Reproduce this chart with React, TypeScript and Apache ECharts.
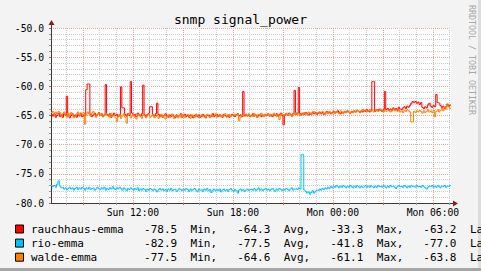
import React, { useEffect, useRef } from 'react';
import * as echarts from 'echarts';

// time in minutes since Sun 00:00, 5-minute steps
const START_MIN = 425; // Sun 07:05
const STEP_MIN = 5;
const END_MIN = 1865; // Mon 07:05

const seriesNames = ['rauchhaus-emma', 'rio-emma', 'walde-emma'];
const seriesColors = ['#ff0000', '#00c0ff', '#ff8000'];

const rauchhaus = [
  -64.8, -65.1, -64.7, -65.3, -65.0, -64.6, -65.2, -64.9, -65.3, -64.7, -65.0, -61.7,
  -64.9, -65.4, -65.0, -64.7, -65.2, -64.9, -65.3, -64.8, -65.1, -64.6, -65.2, -64.9,
  -65.1, -60.6, -59.6, -59.6, -64.8, -65.2, -64.9, -64.6, -65.1, -64.8, -64.5, -65.0,
  -64.7, -65.2, -64.9, -59.7, -64.8, -65.1, -64.7, -65.3, -64.9, -64.6, -65.0, -64.8,
  -65.2, -64.9, -60.1, -63.7, -63.7, -64.8, -65.1, -64.7, -65.0, -59.2, -64.6, -65.0,
  -64.8, -65.2, -64.6, -64.9, -65.1, -64.7, -59.8, -64.9, -65.2, -64.8, -64.6, -63.5,
  -63.5, -64.9, -65.1, -64.7, -62.9, -64.8, -65.2, -64.9, -65.3, -65.0, -64.7, -65.1,
  -65.3, -64.9, -65.2, -64.8, -65.1, -65.4, -64.9, -65.2, -65.0, -64.7, -65.3, -65.0,
  -64.8, -65.2, -65.0, -65.3, -64.9, -65.1, -65.4, -65.0, -64.8, -65.2, -64.9, -65.3,
  -65.1, -64.8, -65.2, -65.4, -65.0, -64.9, -65.3, -65.1, -64.7, -65.2, -65.0, -64.8,
  -65.2, -64.9, -65.1, -65.3, -64.8, -65.0, -65.2, -64.9, -65.3, -65.1, -64.8, -65.0,
  -65.2, -64.9, -64.7, -65.1, -64.9, -65.2, -60.9, -65.0, -64.8, -65.1, -64.9, -65.2,
  -65.0, -64.7, -65.1, -64.9, -65.3, -65.0, -64.8, -65.2, -64.9, -65.1, -64.8, -65.0,
  -64.7, -65.1, -64.9, -65.2, -64.8, -65.0, -64.7, -65.1, -64.9, -64.6, -65.0, -66.6,
  -64.9, -64.7, -65.0, -64.6, -64.8, -65.1, -64.7, -60.7, -64.8, -64.6, -60.2, -64.7,
  -64.9, -64.6, -64.8, -64.5, -64.7, -64.9, -64.6, -64.8, -64.4, -64.7, -64.5, -64.8,
  -64.6, -64.4, -64.7, -64.5, -64.8, -64.6, -64.3, -64.6, -64.4, -64.7, -64.5, -64.3,
  -64.6, -64.4, -64.2, -64.5, -64.7, -64.4, -64.6, -64.3, -64.5, -64.2, -64.4, -64.6,
  -64.3, -64.5, -64.2, -64.4, -64.1, -64.3, -64.5, -64.2, -64.4, -64.1, -64.3, -64.0,
  -64.2, -64.4, -64.1, -59.2, -59.2, -64.3, -64.0, -64.2, -63.9, -64.1, -64.3, -64.0,
  -60.9, -64.0, -63.8, -64.1, -63.9, -64.2, -63.7, -64.0, -63.8, -64.1, -63.6, -63.9,
  -64.0, -63.7, -63.5, -63.8, -63.4, -63.6, -63.3, -62.9, -62.6, -62.8, -62.6, -62.9,
  -62.7, -63.1, -62.8, -63.6, -63.8, -63.5, -63.7, -63.2, -62.9, -63.4, -63.6, -63.3,
  -63.5, -61.4, -62.8, -62.9, -63.3, -63.6, -63.4, -63.8, -63.5, -63.1, -63.4, -63.2,
];

const rio = [
  -77.0, -77.2, -77.0, -77.3, -76.8, -76.2, -77.1, -77.4, -77.3, -77.6, -77.4, -77.7,
  -77.5, -77.3, -77.6, -77.4, -77.8, -77.5, -77.3, -77.7, -77.4, -77.6, -77.3, -77.5,
  -77.8, -77.4, -77.6, -77.3, -77.7, -77.5, -77.4, -77.8, -77.6, -77.3, -77.5, -77.7,
  -77.4, -77.6, -77.3, -77.8, -77.5, -77.7, -77.4, -77.6, -77.2, -77.5, -77.7, -77.4,
  -77.6, -77.3, -77.5, -77.8, -77.4, -77.6, -77.9, -77.5, -77.7, -77.4, -77.6, -77.8,
  -77.5, -77.7, -77.4, -77.9, -77.6, -77.8, -77.5, -77.7, -78.0, -77.6, -77.8, -77.5,
  -77.7, -77.9, -77.6, -77.8, -78.1, -77.7, -77.5, -77.8, -77.6, -77.9, -77.7, -78.0,
  -77.6, -77.8, -77.5, -77.9, -77.7, -77.6, -78.0, -77.8, -77.5, -77.7, -77.9, -77.6,
  -77.8, -77.5, -77.7, -78.0, -77.6, -77.9, -77.7, -77.5, -77.8, -78.1, -77.6, -77.8,
  -77.7, -78.0, -77.6, -77.8, -77.5, -77.9, -77.7, -78.2, -77.8, -77.6, -77.9, -77.7,
  -77.9, -77.6, -78.1, -77.8, -77.6, -77.9, -77.7, -78.0, -77.7, -77.5, -77.8, -78.0,
  -77.7, -77.9, -78.3, -77.8, -77.6, -77.9, -77.7, -78.0, -77.8, -77.6, -77.9, -77.7,
  -77.6, -77.8, -77.5, -77.9, -77.7, -77.4, -77.8, -77.6, -77.9, -77.7, -77.5, -77.8,
  -77.6, -77.9, -77.7, -77.5, -77.8, -78.0, -77.6, -77.8, -77.5, -77.7, -77.9, -77.6,
  -77.8, -77.5, -77.7, -77.9, -77.6, -77.4, -77.8, -77.6, -77.5, -77.7, -77.4, -77.6,
  -71.7, -71.7, -77.8, -78.0, -78.3, -78.1, -78.5, -78.2, -77.9, -78.3, -78.0, -77.8,
  -77.9, -77.6, -77.8, -77.5, -77.7, -77.4, -77.6, -77.3, -77.5, -77.2, -77.4, -77.1,
  -77.3, -77.0, -77.2, -77.4, -77.1, -77.3, -77.0, -77.2, -77.4, -77.1, -77.3, -77.0,
  -77.2, -77.4, -77.1, -77.3, -77.0, -77.2, -77.4, -77.1, -77.3, -77.2, -77.0, -77.3,
  -77.1, -77.3, -77.0, -77.2, -77.4, -77.1, -77.3, -77.0, -77.2, -77.1, -77.3, -77.0,
  -77.2, -77.4, -77.1, -77.3, -77.0, -77.2, -77.1, -77.3, -77.5, -77.2, -77.0, -77.2,
  -77.1, -77.3, -77.0, -77.2, -77.4, -77.1, -77.3, -77.0, -77.2, -77.1, -77.3, -77.0,
  -77.2, -77.1, -77.3, -77.0, -77.2, -77.4, -77.6, -77.3, -77.1, -77.2, -77.0, -77.3,
  -77.1, -77.3, -77.0, -77.2, -77.4, -77.1, -77.2, -77.0, -77.3, -77.1, -77.2, -77.0,
];

const walde = [
  -64.5, -64.3, -64.6, -64.4, -64.8, -64.3, -64.5, -65.2, -64.7, -64.4, -64.9, -65.3,
  -64.6, -65.0, -64.5, -64.8, -65.4, -65.1, -64.7, -64.4, -65.0, -64.6, -64.9, -64.5,
  -66.5, -64.8, -64.4, -64.7, -65.1, -64.6, -64.3, -64.9, -65.3, -64.8, -64.5, -65.0,
  -64.7, -65.2, -64.9, -64.6, -65.0, -64.8, -65.3, -64.7, -65.1, -64.9, -65.4, -66.0,
  -65.2, -64.8, -65.5, -65.1, -64.7, -65.3, -66.3, -65.0, -64.8, -65.4, -65.1, -64.9,
  -65.3, -65.6, -65.0, -64.8, -65.2, -65.5, -64.9, -65.1, -65.4, -65.0, -64.8, -65.3,
  -65.1, -64.8, -65.4, -65.2, -64.9, -65.5, -65.1, -64.8, -65.3, -65.0, -65.6, -65.2,
  -64.9, -65.3, -65.1, -64.8, -65.5, -65.2, -64.9, -65.4, -65.0, -65.3, -64.8, -65.1,
  -65.4, -65.0, -64.8, -65.2, -65.5, -64.9, -65.1, -65.3, -64.8, -65.0, -65.4, -65.1,
  -64.9, -65.2, -65.0, -65.4, -64.8, -65.1, -65.3, -64.9, -65.2, -65.0, -64.7, -65.3,
  -65.0, -64.8, -65.2, -64.9, -65.1, -64.7, -65.3, -65.0, -64.8, -65.2, -64.9, -65.1,
  -64.8, -65.0, -64.7, -65.9, -65.3, -64.9, -65.1, -65.2, -64.8, -65.0, -64.7, -65.1,
  -64.9, -65.2, -64.7, -65.0, -65.3, -64.8, -65.1, -64.6, -64.9, -65.2, -64.8, -65.0,
  -64.7, -65.1, -64.8, -65.0, -64.6, -64.9, -65.2, -64.8, -65.7, -65.0, -64.7, -64.9,
  -64.8, -64.6, -65.0, -64.7, -64.9, -65.2, -64.6, -64.8, -64.5, -64.9, -64.7, -65.0,
  -64.6, -64.8, -64.5, -64.7, -64.9, -64.4, -64.6, -64.8, -64.5, -64.3, -64.7, -64.5,
  -64.4, -64.7, -64.5, -64.3, -64.6, -64.8, -64.4, -64.6, -64.3, -64.5, -64.7, -64.4,
  -64.6, -64.3, -64.5, -64.7, -64.2, -64.4, -64.6, -64.3, -64.5, -64.2, -64.4, -64.6,
  -64.3, -64.5, -64.2, -64.4, -64.1, -64.3, -64.5, -64.2, -64.0, -64.3, -64.1, -64.4,
  -64.2, -64.0, -64.3, -64.1, -64.4, -64.2, -64.0, -64.3, -64.1, -63.9, -64.2, -64.4,
  -64.1, -64.3, -64.0, -64.2, -64.4, -64.1, -63.9, -64.2, -64.0, -64.3, -64.1, -64.4,
  -64.2, -64.5, -64.1, -64.3, -64.0, -64.2, -64.4, -66.1, -66.1, -64.3, -64.5, -64.2,
  -64.4, -64.1, -64.3, -64.6, -64.2, -64.5, -64.3, -64.0, -64.4, -64.2, -64.5, -64.1,
  -65.2, -64.3, -64.0, -64.4, -64.1, -63.8, -64.2, -63.6, -63.9, -63.0, -63.5, -63.8,
];

const legendMin = [-78.5, -82.9, -77.5];
const legendAvg = [-64.3, -77.5, -64.6];
const legendMax = [-33.3, -41.8, -61.1];
const legendLast = [-63.2, -77.0, -63.8];

const xLabelMinutes = [720, 1080, 1440, 1800];
const xLabels = ['Sun 12:00', 'Sun 18:00', 'Mon 00:00', 'Mon 06:00'];
const xMajorMinutes = [540, 720, 900, 1080, 1260, 1440, 1620, 1800];
const yMin = -80;
const yMax = -50;
const yMajorStep = 5;

const TITLE = 'snmp signal_power';
const WATERMARK = 'RRDTOOL / TOBI OETIKER';

const MONO = '"DejaVu Sans Mono", monospace';

function App() {
  const ref = useRef<HTMLDivElement>(null);
  useEffect(() => {
    document.body.style.margin = '0';
    if (!ref.current) return;
    const chart = echarts.init(ref.current, null, { renderer: 'svg' });

    const G_LEFT = 51, G_TOP = 28, G_RIGHT_X = 451, G_BOTTOM_Y = 203;

    const hourMinor: number[] = [];
    for (let m = 480; m <= 1860; m += 60) if (!xMajorMinutes.includes(m)) hourMinor.push(m);
    const yMinor: number[] = [];
    for (let v = yMin + 1; v < yMax; v++) if (v % yMajorStep !== 0) yMinor.push(v);

    const allSeries = [rauchhaus, rio, walde];
    const series = allSeries.map((vals, k) => {
      const data = vals.map((v, i) => [START_MIN + i * STEP_MIN, v]);
      data.push([END_MIN, vals[vals.length - 1]]);
      return {
        name: seriesNames[k],
        type: 'line',
        step: 'end',
        showSymbol: false,
        xAxisIndex: 0,
        yAxisIndex: 0,
        data,
        lineStyle: { width: 1, color: seriesColors[k] },
        itemStyle: { color: seriesColors[k] },
        z: 5 + k,
      };
    });

    const legendCols = [0, 17, 24, 31, 38, 45, 52, 59, 66];
    const charW = 6.65;
    const legendGraphics: any[] = [];
    seriesNames.forEach((name, k) => {
      const cy = 229 + k * 14.1;
      legendGraphics.push({
        type: 'rect',
        shape: { x: 15.5, y: cy - 4, width: 8, height: 8 },
        style: { fill: seriesColors[k], stroke: '#000', lineWidth: 1 },
      });
      const parts = [
        name,
        legendMin[k].toFixed(1), 'Min,',
        legendAvg[k].toFixed(1), 'Avg,',
        legendMax[k].toFixed(1), 'Max,',
        legendLast[k].toFixed(1), 'Last',
      ];
      parts.forEach((p, j) => {
        legendGraphics.push({
          type: 'text',
          x: 31 + legendCols[j] * charW,
          y: cy,
          style: {
            text: p,
            fill: '#000',
            font: `11px ${MONO}`,
            textAlign: 'left',
            textVerticalAlign: 'middle',
          },
        });
      });
    });

    const axisColor = '#3a3a3a';
    const arrowColor = '#8c1c1c';

    chart.setOption({
      animation: false,
      backgroundColor: '#f3f3f3',
      title: {
        text: TITLE,
        left: 'center',
        top: 13,
        padding: 0,
        textStyle: { fontFamily: MONO, fontSize: 13, fontWeight: 'normal', color: '#000' },
      },
      grid: { left: G_LEFT, top: G_TOP, right: 481 - G_RIGHT_X, bottom: 271 - G_BOTTOM_Y, backgroundColor: '#fff', show: true, borderWidth: 0 },
      xAxis: [
        {
          type: 'value',
          min: START_MIN,
          max: END_MIN,
          position: 'bottom',
          axisLine: { show: true, lineStyle: { color: axisColor, width: 1 } },
          axisTick: { show: true, customValues: hourMinor, length: 2, lineStyle: { color: '#999' } },
          axisLabel: { show: false },
          splitLine: { show: true, lineStyle: { color: '#cccccc', width: 1, type: [1, 1] } },
        },
        {
          type: 'value',
          min: START_MIN,
          max: END_MIN,
          position: 'bottom',
          axisLine: { show: false },
          axisTick: { show: true, customValues: xMajorMinutes, length: 2, lineStyle: { color: '#d06060' } },
          axisLabel: {
            show: true,
            customValues: xLabelMinutes,
            margin: 4,
            formatter: (v: number) => {
              const idx = xLabelMinutes.indexOf(Math.round(v));
              return idx >= 0 ? xLabels[idx] : '';
            },
            color: '#000',
            fontFamily: MONO,
            fontSize: 9.7,
          },
          splitLine: { show: true, lineStyle: { color: '#eaa0a0', width: 1, type: [1, 1] } },
        },
      ],
      yAxis: [
        {
          type: 'value',
          min: yMin,
          max: yMax,
          position: 'left',
          axisLine: { show: true, lineStyle: { color: axisColor, width: 1 } },
          axisTick: { show: true, customValues: yMinor, length: 2, lineStyle: { color: '#999' } },
          axisLabel: { show: false },
          splitLine: { show: true, lineStyle: { color: '#cccccc', width: 1, type: [1, 1] } },
        },
        {
          type: 'value',
          min: yMin,
          max: yMax,
          interval: yMajorStep,
          position: 'left',
          axisLine: { show: false },
          axisTick: { show: true, length: 2, lineStyle: { color: '#d06060' } },
          axisLabel: {
            show: true,
            margin: 7,
            formatter: (v: number) => v.toFixed(1),
            color: '#000',
            fontFamily: MONO,
            fontSize: 9.7,
          },
          splitLine: { show: true, lineStyle: { color: '#eaa0a0', width: 1, type: [1, 1] } },
        },
      ],
      series,
      graphic: [
        { type: 'rect', shape: { x: 0, y: 268, width: 481, height: 3 }, style: { fill: '#a6a6a6' }, silent: true },
        { type: 'rect', shape: { x: 478, y: 0, width: 3, height: 268 }, style: { fill: '#dcdcdc' }, silent: true },
        { type: 'line', shape: { x1: G_LEFT + 0.5, y1: G_TOP, x2: G_LEFT + 0.5, y2: G_TOP - 4 }, style: { stroke: axisColor, lineWidth: 1 } },
        { type: 'polygon', shape: { points: [[G_LEFT - 2.5, G_TOP - 3], [G_LEFT + 3.5, G_TOP - 3], [G_LEFT + 0.5, G_TOP - 8]] }, style: { fill: arrowColor } },
        { type: 'line', shape: { x1: G_RIGHT_X, y1: G_BOTTOM_Y + 0.5, x2: G_RIGHT_X + 3, y2: G_BOTTOM_Y + 0.5 }, style: { stroke: axisColor, lineWidth: 1 } },
        { type: 'polygon', shape: { points: [[G_RIGHT_X + 2, G_BOTTOM_Y - 2.5], [G_RIGHT_X + 2, G_BOTTOM_Y + 3.5], [G_RIGHT_X + 7, G_BOTTOM_Y + 0.5]] }, style: { fill: arrowColor } },
        {
          type: 'text',
          x: 471.5,
          y: 5,
          rotation: -Math.PI / 2,
          style: {
            text: WATERMARK,
            fill: '#a8a8a8',
            font: `8.3px ${MONO}`,
            textAlign: 'left',
            textVerticalAlign: 'middle',
          },
        },
        ...legendGraphics,
      ],
    });
    return () => chart.dispose();
  }, []);
  return <div ref={ref} style={{ width: 481, height: 271, overflow: 'hidden' }} />;
}

export default App;
